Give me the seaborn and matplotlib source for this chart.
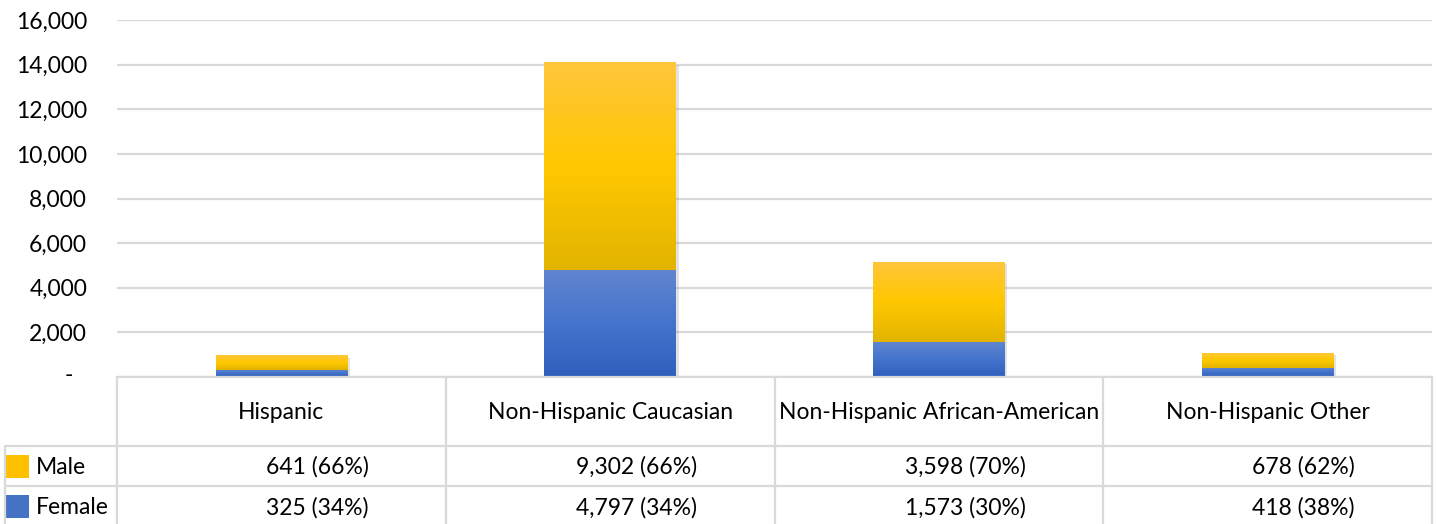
import numpy as np
import pandas as pd
import matplotlib
matplotlib.use("Agg")
import matplotlib.pyplot as plt
import matplotlib.patheffects as pe
from matplotlib.colors import LinearSegmentedColormap
from matplotlib.patches import Rectangle
from matplotlib.transforms import ScaledTranslation
import seaborn as sns

# ---- data ----
categories = ["Hispanic", "Non-Hispanic Caucasian", "Non-Hispanic African-American", "Non-Hispanic Other"]
male = [641, 9302, 3598, 678]
female = [325, 4797, 1573, 418]
male_pct = ["66%", "66%", "70%", "62%"]
female_pct = ["34%", "34%", "30%", "38%"]
yticks = [0, 2000, 4000, 6000, 8000, 10000, 12000, 14000, 16000]
series_names = ["Male", "Female"]

sns.set_theme(style="white")
plt.rcParams["font.family"] = ["Lato", "DejaVu Sans"]

W, H, DPI = 1438, 524, 100
fig = plt.figure(figsize=(W / DPI, H / DPI), dpi=DPI)

left_px, right_px = 117, 1432
zero_px, top_px = 377, 20
ax = fig.add_axes([left_px / W, 1 - zero_px / H, (right_px - left_px) / W, (zero_px - top_px) / H])

df = pd.DataFrame({"cat": categories, "male": male, "female": female})
df["total"] = df["male"] + df["female"]

male_col = "#FFC000"
female_col = "#4472C4"
sns.barplot(data=df, x="cat", y="total", color=male_col, width=0.4, ax=ax, saturation=1, zorder=3)
n = len(categories)
sns.barplot(data=df, x="cat", y="female", color=female_col, width=0.4, ax=ax, saturation=1, zorder=3)

ax.set_xlim(-0.5, n - 0.5)
ax.set_ylim(0, 16000)

total_patches = ax.patches[:n]
female_patches = ax.patches[n:2 * n]

cm_male = LinearSegmentedColormap.from_list("m", ["#E2B400", "#FFC800", "#FFC63C"])
cm_fem = LinearSegmentedColormap.from_list("f", ["#2E5FBC", "#4474CC", "#6186D0"])
grad = np.linspace(0, 1, 256).reshape(-1, 1)

for tp, fp in zip(total_patches, female_patches):
    tp.set_path_effects([pe.SimplePatchShadow(offset=(2, -2), shadow_rgbFace="#909090", alpha=0.25), pe.Normal()])
    tp.set_edgecolor("none")
    fp.set_edgecolor("none")
    x0, w = tp.get_x(), tp.get_width()
    fh = fp.get_height()
    th = tp.get_height()
    im = ax.imshow(grad, extent=[x0, x0 + w, fh, th], origin="lower", cmap=cm_male,
                   aspect="auto", zorder=4, interpolation="bilinear")
    im.set_clip_path(tp)
    im2 = ax.imshow(grad, extent=[x0, x0 + w, 0, fh], origin="lower", cmap=cm_fem,
                    aspect="auto", zorder=4, interpolation="bilinear")
    im2.set_clip_path(fp)

ax.set_xlim(-0.5, n - 0.5)
ax.set_ylim(0, 16000)
ax.set_aspect("auto")

grid_col = "#D9D9D9"
fs = 16.5
ax.set_yticks(yticks)
ax.set_yticklabels(["-" if v == 0 else f"{v:,}" for v in yticks])
ax.yaxis.grid(True, color=grid_col, linewidth=1.6, zorder=0)
ax.set_axisbelow(True)
ax.tick_params(axis="y", length=0, pad=21.5, labelsize=fs, labelcolor="#000000")
ax.set_xticks([])
ax.set_xlabel("")
ax.set_ylabel("")
for s in ax.spines.values():
    s.set_visible(False)
zl = ax.get_yticklabels()[0]
zl.set_transform(zl.get_transform() + ScaledTranslation(-0.14, 0.03, fig.dpi_scale_trans))

# ---- data table ----
axt = fig.add_axes([left_px / W, 0, (right_px - left_px) / W, (H - zero_px) / H])
axt.set_xlim(-0.5, n - 0.5)
axt.set_ylim(H - zero_px, 0)  # pixel rows, inverted
axt.axis("off")
hdr_bottom, male_bottom, fem_bottom = 69, 109, 150
lw = 1.6
unit = (right_px - left_px) / n
legend_left = -0.5 - (left_px - 5) / unit
axt.plot([-0.5, n - 0.5], [0, 0], color=grid_col, lw=lw, clip_on=False, zorder=5)
for yy in [hdr_bottom, male_bottom]:
    axt.plot([legend_left, n - 0.5], [yy, yy], color=grid_col, lw=lw, clip_on=False)
for i in range(n + 1):
    axt.plot([i - 0.5, i - 0.5], [0, fem_bottom], color=grid_col, lw=lw, clip_on=False)
axt.plot([legend_left, legend_left], [hdr_bottom, fem_bottom], color=grid_col, lw=lw, clip_on=False)

for i, c in enumerate(categories):
    axt.text(i, hdr_bottom / 2 + 1, c, ha="center", va="center", fontsize=fs, color="#000000")
    axt.text(i + 0.5 - 0.235, (hdr_bottom + male_bottom) / 2 + 1, f"{male[i]:,} ({male_pct[i]})",
             ha="right", va="center", fontsize=fs, color="#000000")
    axt.text(i + 0.5 - 0.235, (male_bottom + fem_bottom) / 2 + 1, f"{female[i]:,} ({female_pct[i]})",
             ha="right", va="center", fontsize=fs, color="#000000")

sw = 23 / unit
for name, col, y0, y1 in [(series_names[0], male_col, hdr_bottom, male_bottom),
                          (series_names[1], female_col, male_bottom, fem_bottom)]:
    yc = (y0 + y1) / 2
    axt.add_patch(Rectangle((legend_left + 1 / unit, yc - 11.5), sw, 23, facecolor=col,
                            edgecolor="none", clip_on=False))
    axt.text(legend_left + 31 / unit, yc + 1, name, ha="left", va="center", fontsize=fs, color="#000000")

fig.savefig("out.png", dpi=DPI)
